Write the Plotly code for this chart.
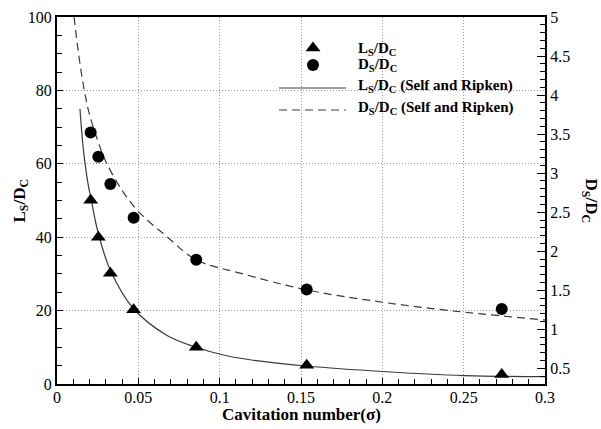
import plotly.graph_objects as go

# Measured supercavity length and diameter vs. cavitation number
sigma = [0.0207, 0.0254, 0.0328, 0.0471, 0.0856, 0.1535, 0.2734]
ls_dc = [50.1, 40.0, 30.2, 20.2, 10.0, 5.1, 2.6]
ds_dc = [3.52, 3.21, 2.86, 2.43, 1.89, 1.51, 1.26]

# Self and Ripken correlation curves
ls_curve_sigma = [0.0141, 0.0162, 0.0193, 0.0207, 0.0254, 0.0328, 0.0471, 0.0674,
                  0.0856, 0.1022, 0.1186, 0.1535, 0.2002, 0.2504, 0.3]
ls_curve = [75.0, 64.0, 54.0, 51.0, 41.0, 31.0, 20.5, 13.3, 10.0, 7.9, 6.6, 4.9,
            3.4, 2.3, 2.0]
ds_curve_sigma = [0.0105, 0.0125, 0.015, 0.0175, 0.02, 0.025, 0.03, 0.04, 0.05,
                  0.0674, 0.0856, 0.1125, 0.1535, 0.2002, 0.2504, 0.3]
ds_curve = [5.0, 4.65, 4.28, 3.98, 3.75, 3.42, 3.15, 2.78, 2.51, 2.19, 1.89, 1.72,
            1.505, 1.347, 1.22, 1.12]

x_ticks = [0, 0.05, 0.1, 0.15, 0.2, 0.25, 0.3]
x_labels = ["0", "0.05", "0.1", "0.15", "0.2", "0.25", "0.3"]
y_ticks = [0, 20, 40, 60, 80, 100]
y_labels = ["0", "20", "40", "60", "80", "100"]
y2_ticks = [0.5, 1, 1.5, 2, 2.5, 3, 3.5, 4, 4.5, 5]
y2_labels = ["0.5", "1", "1.5", "2", "2.5", "3", "3.5", "4", "4.5", "5"]

legend_labels = [
    "<b>L<sub>S</sub>/D<sub>C</sub></b>",
    "<b>D<sub>S</sub>/D<sub>C</sub></b>",
    "<b>L<sub>S</sub>/D<sub>C</sub> (Self and Ripken)</b>",
    "<b>D<sub>S</sub>/D<sub>C</sub> (Self and Ripken)</b>",
]

SERIF = "Liberation Serif, Times New Roman, serif"
LINE_COLOR = "#3a3a3a"
TICK_FONT = dict(family=SERIF, size=16, color="black")
TITLE_FONT = dict(family=SERIF, size=17, color="black")

# plot-area size in pixels, used to place titles in paper units
PLOT_W, PLOT_H = 488, 367

fig = go.Figure()

fig.add_trace(go.Scatter(x=ls_curve_sigma, y=ls_curve, mode="lines",
                         line=dict(color=LINE_COLOR, width=1.2, shape="spline"),
                         showlegend=False))
fig.add_trace(go.Scatter(x=ds_curve_sigma, y=ds_curve, mode="lines", yaxis="y2",
                         line=dict(color=LINE_COLOR, width=1.2, dash="8px,5px",
                                   shape="spline"),
                         showlegend=False))
fig.add_trace(go.Scatter(x=sigma, y=ls_dc, mode="markers",
                         marker=dict(symbol="triangle-up", size=13, color="black"),
                         showlegend=False))
fig.add_trace(go.Scatter(x=sigma, y=ds_dc, mode="markers", yaxis="y2",
                         marker=dict(symbol="circle", size=12, color="black"),
                         showlegend=False))

# Legend keys drawn on a hidden unit-square overlay
key_x = 0.5246
row_y = [0.9155, 0.869, 0.8065, 0.7466]
fig.add_trace(go.Scatter(x=[key_x], y=[row_y[0]], xaxis="x3", yaxis="y3",
                         mode="markers", showlegend=False,
                         marker=dict(symbol="triangle-up", size=13, color="black")))
fig.add_trace(go.Scatter(x=[key_x], y=[row_y[1]], xaxis="x3", yaxis="y3",
                         mode="markers", showlegend=False,
                         marker=dict(symbol="circle", size=12, color="black")))
fig.add_trace(go.Scatter(x=[0.455, 0.592], y=[row_y[2]] * 2, xaxis="x3", yaxis="y3",
                         mode="lines", showlegend=False,
                         line=dict(color=LINE_COLOR, width=1.2)))
fig.add_trace(go.Scatter(x=[0.455, 0.592], y=[row_y[3]] * 2, xaxis="x3", yaxis="y3",
                         mode="lines", showlegend=False,
                         line=dict(color=LINE_COLOR, width=1.2, dash="8px,5px")))

text_y = [0.912, 0.870, 0.811, 0.752]
for lbl, ty in zip(legend_labels, text_y):
    fig.add_annotation(x=0.6127, y=ty, xref="paper", yref="paper", text=lbl,
                       showarrow=False, xanchor="left", yanchor="middle",
                       font=dict(family=SERIF, size=15, color="black"))

# Axis titles
fig.add_annotation(x=0.5, y=-30 / PLOT_H, xref="paper", yref="paper",
                   text="<b>Cavitation number(σ)</b>", showarrow=False,
                   xanchor="center", yanchor="middle", font=TITLE_FONT)
fig.add_annotation(x=-37 / PLOT_W, y=0.5, xref="paper", yref="paper",
                   text="<b>L<sub>S</sub>/D<sub>C</sub></b>", textangle=-90,
                   showarrow=False, xanchor="center", yanchor="middle",
                   font=TITLE_FONT)
fig.add_annotation(x=1.0 + 45 / PLOT_W, y=0.5, xref="paper", yref="paper",
                   text="<b>D<sub>S</sub>/D<sub>C</sub></b>", textangle=90,
                   showarrow=False, xanchor="center", yanchor="middle",
                   font=TITLE_FONT)

grid = dict(showgrid=True, gridcolor="#9a9a9a", gridwidth=1, griddash="1px,2px")

fig.update_layout(
    width=601, height=429,
    margin=dict(l=57, r=56, t=17, b=45, autoexpand=False),
    paper_bgcolor="white", plot_bgcolor="white",
    font=dict(family=SERIF, size=16, color="black"),
    xaxis=dict(range=[0, 0.3], tickvals=x_ticks, ticktext=x_labels,
               tickfont=TICK_FONT, automargin=False, ticklabelstandoff=-2,
               ticks="inside", ticklen=6, tickwidth=1, tickcolor="black",
               minor=dict(dtick=0.01, ticks="inside", ticklen=5, tickcolor="black",
                          showgrid=False),
               showline=True, linecolor="black", linewidth=2, mirror=True,
               zeroline=False, **grid),
    yaxis=dict(range=[0, 100], tickvals=y_ticks, ticktext=y_labels,
               tickfont=TICK_FONT, automargin=False,
               ticks="inside", ticklen=6, tickwidth=1, tickcolor="black",
               minor=dict(dtick=5, ticks="inside", ticklen=5, tickcolor="black",
                          showgrid=False),
               showline=True, linecolor="black", linewidth=2, zeroline=False,
               **grid),
    yaxis2=dict(range=[0.3, 5], overlaying="y", side="right",
                tickvals=y2_ticks, ticktext=y2_labels,
                tickfont=TICK_FONT, automargin=False,
                ticks="inside", ticklen=8, tickwidth=1, tickcolor="black",
                minor=dict(dtick=0.1, tick0=0.3, ticks="inside", ticklen=5,
                           tickcolor="black", showgrid=False),
                showline=True, linecolor="black", linewidth=2,
                showgrid=False, zeroline=False),
    xaxis3=dict(range=[0, 1], overlaying="x", visible=False),
    yaxis3=dict(range=[0, 1], overlaying="y", visible=False),
)

fig.write_html("out.html")
